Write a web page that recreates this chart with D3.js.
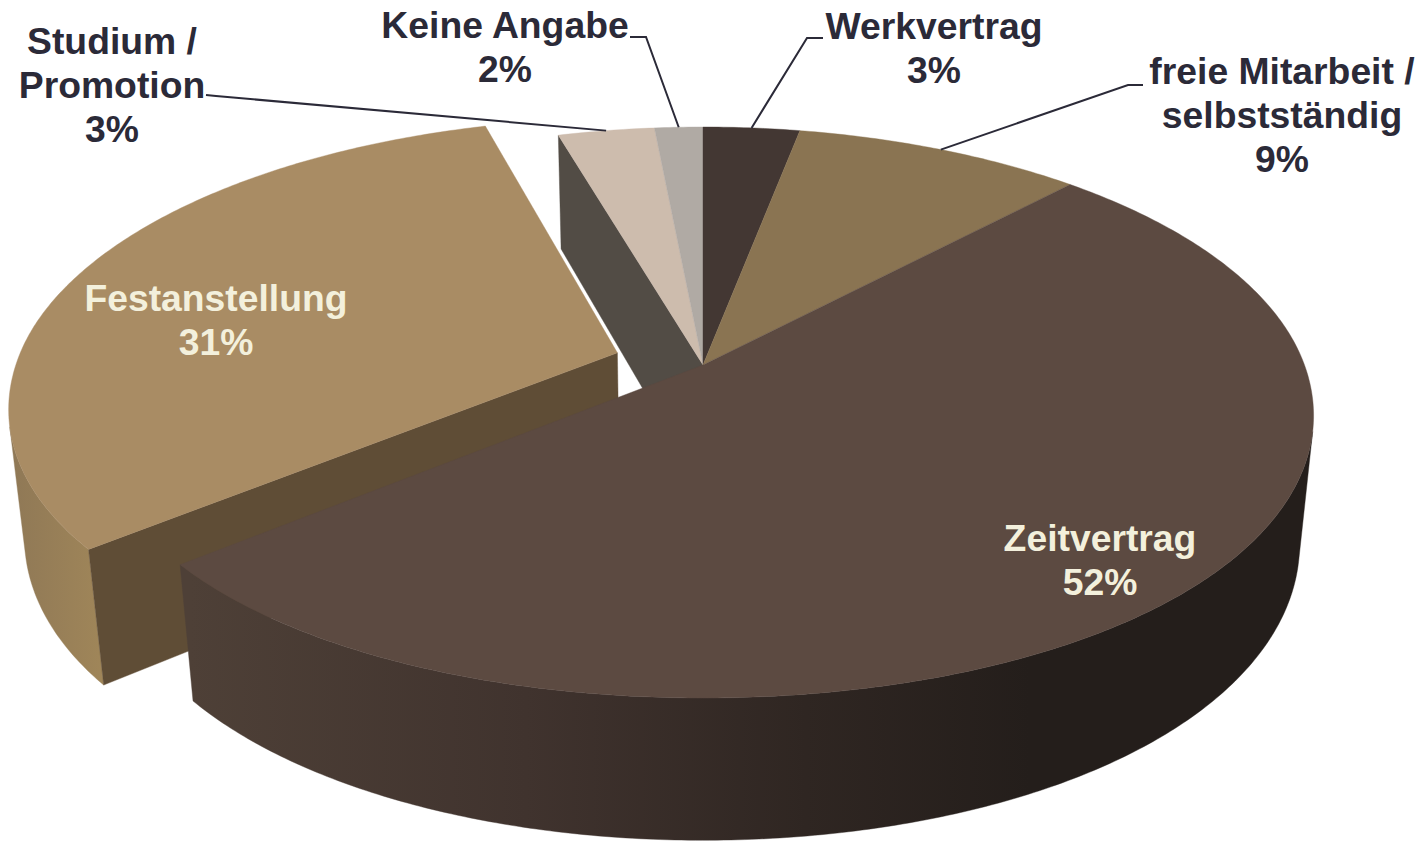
<!DOCTYPE html>
<html>
<head>
<meta charset="utf-8">
<script src="https://cdn.jsdelivr.net/npm/d3@7/dist/d3.min.js"></script>
<style>
html,body{margin:0;padding:0;background:#fff;}
svg{display:block;}
text{font-family:"Liberation Sans",Arial,sans-serif;font-weight:700;font-size:37.3px;}
</style>
</head>
<body>
<svg id="chart" width="1422" height="841"></svg>
<script>
// ---- data (clockwise from 12 o'clock) ----
const categories = ["Werkvertrag", "freie Mitarbeit / selbstständig", "Zeitvertrag", "Festanstellung", "Studium / Promotion", "Keine Angabe"];
const sliceValues = [3, 9, 52, 31.5, 3, 1.5];
const percentLabels = ["3%", "9%", "52%", "31%", "3%", "2%"];
const topColors = ["#433733", "#8a7452", "#5c4a41", "#a98c64", "#cdbcad", "#b0aaa4"];

// ---- projection of the tilted disc ----
const cx = 703, cy = 365;
const radiusX = 601.5, radiusY = 277.6, persp = 0.1664;
const depthPersp = 0.0227, vanishY = 5700;
const explodeFest = 0.15;
const frontBulge = 0.008;

function project(u, w, h) {
  const q = 1 - persp * w + depthPersp * h;
  return [cx + radiusX * u / q, cy + (radiusY * w + depthPersp * h * vanishY) / q];
}
function rimPoint(angle, h, off) {
  const o = off || [0, 0];
  const s2 = Math.sin(2 * angle);
  const r = Math.cos(angle) < 0 ? 1 + frontBulge * s2 * s2 : 1;
  return project(r * Math.sin(angle) + o[0], -r * Math.cos(angle) + o[1], h);
}

const pie = d3.pie().sort(null).value(d => d);
const arcs = pie(sliceValues);
const line = d3.line();
const svg = d3.select("#chart");
const defs = svg.append("defs");

function sampleAngles(a0, a1) {
  const n = Math.max(2, Math.ceil(Math.abs(a1 - a0) / 0.01));
  return d3.range(n + 1).map(i => a0 + (a1 - a0) * i / n);
}
function topPath(a, off) {
  const o = off || [0, 0];
  return line([project(o[0], o[1], 0), ...sampleAngles(a.startAngle, a.endAngle).map(t => rimPoint(t, 0, o))]) + "Z";
}
// only the camera-facing part of the outer wall: the rim runs right-to-left on screen as the angle grows
function facesCamera(t, off) {
  const p = rimPoint(t, 0, off), n = rimPoint(t + 0.001, 0, off), b = rimPoint(t, 1, off);
  return (n[0] - p[0]) * (b[1] - p[1]) - (n[1] - p[1]) * (b[0] - p[0]) < 0;
}
function wallPath(a0, a1, off) {
  const ts = sampleAngles(a0, a1).filter(t => facesCamera(t, off));
  return line([...ts.map(t => rimPoint(t, 0, off)), ...ts.slice().reverse().map(t => rimPoint(t, 1, off))]) + "Z";
}
function radialPath(a, off) {
  const o = off || [0, 0];
  return line([project(o[0], o[1], 0), rimPoint(a, 0, o), rimPoint(a, 1, o), project(o[0], o[1], 1)]) + "Z";
}
function gradient(id, stops, x1, x2) {
  const g = defs.append("linearGradient").attr("id", id)
    .attr("gradientUnits", "userSpaceOnUse")
    .attr("x1", x1).attr("x2", x2).attr("y1", 0).attr("y2", 0);
  stops.forEach(s => g.append("stop").attr("offset", s[0]).attr("stop-color", s[1]));
}
gradient("zeitWall", [[0, "#4e4037"], [0.3, "#40332e"], [0.55, "#2f2622"], [0.75, "#241e1b"], [1, "#241e1b"]], 190, 1310);
gradient("festWall", [[0, "#8f7856"], [1, "#a08659"]], 10, 105);

const [werk, freie, zeit, fest, studium, keine] = arcs;
const festMid = (fest.startAngle + fest.endAngle) / 2;
const festOff = [Math.sin(festMid) * explodeFest, -Math.cos(festMid) * explodeFest];

const plot = svg.append("g");
function face(d, fill) {
  plot.append("path").attr("d", d).attr("fill", fill).attr("stroke", fill).attr("stroke-width", 0.4);
}

// back faces first, front faces last
face(radialPath(studium.startAngle), "#524c45");
[studium, keine, werk, freie].forEach(a => face(topPath(a), topColors[arcs.indexOf(a)]));
face(wallPath(fest.startAngle, fest.endAngle, festOff), "url(#festWall)");
face(radialPath(fest.startAngle, festOff), "#5f4d36");
face(topPath(fest, festOff), topColors[3]);
face(wallPath(zeit.startAngle, zeit.endAngle), "url(#zeitWall)");
face(topPath(zeit), topColors[2]);

// ---- labels ----
const textDark = "#2b2a38", textLight = "#f3f0dc";
const labelSpec = [
  {i: 0, x: 934, y: 39, lines: ["Werkvertrag"], fill: textDark},
  {i: 1, x: 1282, y: 84, lines: ["freie Mitarbeit /", "selbstständig"], fill: textDark},
  {i: 2, x: 1100, y: 551, lines: ["Zeitvertrag"], fill: textLight},
  {i: 3, x: 216, y: 311, lines: ["Festanstellung"], fill: textLight},
  {i: 4, x: 112, y: 54, lines: ["Studium /", "Promotion"], fill: textDark},
  {i: 5, x: 505, y: 38, lines: ["Keine Angabe"], fill: textDark}
];
const lineHeight = 44;
labelSpec.forEach(s => {
  [...s.lines, percentLabels[s.i]].forEach((t, k) => {
    svg.append("text").attr("x", s.x).attr("y", s.y + k * lineHeight)
      .attr("text-anchor", "middle").attr("fill", s.fill).text(t);
  });
});

// ---- leader lines, ending at each slice's mid-angle on the rim ----
const leaders = [
  {i: 0, from: [[823, 38], [807, 38]]},
  {i: 1, from: [[1143, 85], [1128, 85]]},
  {i: 4, from: [[206, 95], [216, 96]]},
  {i: 5, from: [[630, 37], [646, 37]]}
];
leaders.forEach(l => {
  const a = arcs[l.i];
  const end = rimPoint((a.startAngle + a.endAngle) / 2, 0);
  svg.append("path").attr("d", line([...l.from, end])).attr("fill", "none")
    .attr("stroke", textDark).attr("stroke-width", 2);
});
</script>
</body>
</html>
